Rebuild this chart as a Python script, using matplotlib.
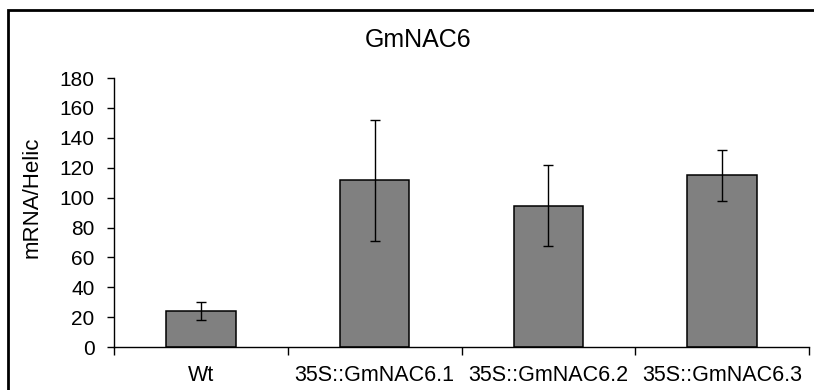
import matplotlib.pyplot as plt
import matplotlib.patches as patches
import numpy as np

plt.rcParams['font.family'] = ['Liberation Sans', 'DejaVu Sans']

# Data
categories = ['Wt', '35S::GmNAC6.1', '35S::GmNAC6.2', '35S::GmNAC6.3']
means = [24, 111.5, 94.5, 115]
errors = [6, 40.5, 27, 17]
yticks = [0, 20, 40, 60, 80, 100, 120, 140, 160, 180]

fig = plt.figure(figsize=(8.14, 3.9), dpi=100)
ax = fig.add_axes([0.140, 0.110, 0.854, 0.690])

x = np.arange(len(categories))
ax.bar(x, means, width=0.4, color='#808080', edgecolor='black', linewidth=1.1, zorder=2)
ax.errorbar(x, means, yerr=errors, fmt='none', ecolor='black', elinewidth=1.0,
            capsize=3.3, capthick=1.0, zorder=3)

ax.set_xlim(-0.5, len(categories) - 0.5)
ax.set_ylim(0, 180)
ax.set_yticks(yticks)
ax.tick_params(axis='y', labelsize=15, direction='out', length=5, width=1, pad=9)

# category labels in the middle, ticks on the boundaries
ax.set_xticks(x)
ax.set_xticklabels(categories, fontsize=15.5)
ax.set_xticks(np.arange(len(categories) + 1) - 0.5, minor=True)
ax.tick_params(axis='x', which='major', length=0, pad=13)
ax.tick_params(axis='x', which='minor', length=6, width=1, direction='out')

for side in ['top', 'right']:
    ax.spines[side].set_visible(False)
for side in ['left', 'bottom']:
    ax.spines[side].set_linewidth(1.0)

ax.set_ylabel('mRNA/Helic', fontsize=16)
ax.yaxis.set_label_coords(-0.102, 0.555)
fig.text(0.5135, 0.897, 'GmNAC6', ha='center', va='center', fontsize=18)

# outer chart border
border = patches.Rectangle((8 / 814, -0.05), 1.0, 1 - 10 / 390 + 0.05,
                           transform=fig.transFigure, fill=False,
                           edgecolor='black', linewidth=2.0)
fig.patches.append(border)

fig.savefig('out.png', dpi=100)
